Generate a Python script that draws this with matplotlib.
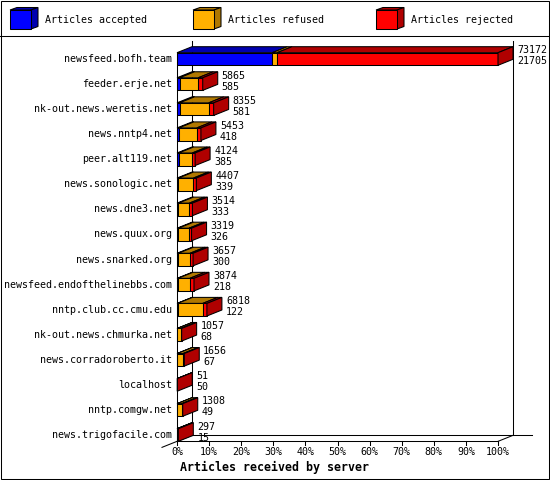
import matplotlib
matplotlib.use("Agg")
import matplotlib.pyplot as plt
from matplotlib.patches import Polygon, Rectangle

# ---------------- data ----------------
servers = ["newsfeed.bofh.team", "feeder.erje.net", "nk-out.news.weretis.net",
           "news.nntp4.net", "peer.alt119.net", "news.sonologic.net",
           "news.dne3.net", "news.quux.org", "news.snarked.org",
           "newsfeed.endofthelinebbs.com", "nntp.club.cc.cmu.edu",
           "nk-out.news.chmurka.net", "news.corradoroberto.it", "localhost",
           "nntp.comgw.net", "news.trigofacile.com"]
totals   = [73172, 5865, 8355, 5453, 4124, 4407, 3514, 3319, 3657, 3874, 6818, 1057, 1656, 51, 1308, 297]
accepted = [21705, 585, 581, 418, 385, 339, 333, 326, 300, 218, 122, 68, 67, 50, 49, 15]
refused  = [1100, 4250, 6650, 4105, 3089, 3408, 2481, 2423, 2667, 2706, 5746, 800, 1300, 0, 1000, 100]
rejected = [50367, 1030, 1124, 930, 650, 660, 700, 570, 690, 950, 950, 189, 289, 1, 259, 182]
ticks = [0, 10, 20, 30, 40, 50, 60, 70, 80, 90, 100]
legend_labels = ["Articles accepted", "Articles refused", "Articles rejected"]
xlabel = "Articles received by server"

# ---------------- style ----------------
front_cols = ["#0000FF", "#FFB000", "#FF0000"]
dark_cols = ["#0000B0", "#B07800", "#B00000"]
FONT = "DejaVu Sans Mono"
FS = 7.2
W, Hpx = 550, 480
PX0, PX100 = 177, 498        # pixel x of 0% and 100%
ROW0, ROWSTEP = 59, 25.07    # pixel y of first row centre, row spacing
sx = (PX100 - PX0) / 100.0
DX = 15 / sx                  # depth offset in data units
DY = -6 / ROWSTEP
HH = 6.3 / ROWSTEP            # half bar height
py = 1 / ROWSTEP              # one pixel in row units
px = 1 / sx                   # one pixel in % units
LW = 0.75

fig = plt.figure(figsize=(W / 100, Hpx / 100), dpi=100)
fig.patch.set_facecolor("white")

ax = fig.add_axes([0, 0, 1, 1])
ax.set_xlim(-PX0 / sx, (W - PX0) / sx)
ax.set_ylim((Hpx - ROW0) / ROWSTEP, -ROW0 / ROWSTEP)
ax.axis("off")

ov = fig.add_axes([0, 0, 1, 1])
ov.set_xlim(0, W)
ov.set_ylim(Hpx, 0)
ov.axis("off")
ov.patch.set_visible(False)

# ---------------- frame & legend ----------------
ov.add_patch(Rectangle((0.5, 0.5), W - 1.5, Hpx - 1.5, fill=False, ec="black", lw=LW))
ov.plot([0, W], [35.5, 35.5], color="black", lw=LW)
leg_x = [10, 193, 376]
for lx, lab, fc, dc in zip(leg_x, legend_labels, front_cols, dark_cols):
    x0, y0, w, h, dx, dy = lx, 10, 21, 19, 7, -2.5
    ov.add_patch(Polygon([(x0, y0), (x0 + dx, y0 + dy), (x0 + w + dx, y0 + dy), (x0 + w, y0)],
                         closed=True, fc=dc, ec="black", lw=LW))
    ov.add_patch(Polygon([(x0 + w, y0), (x0 + w + dx, y0 + dy), (x0 + w + dx, y0 + h + dy), (x0 + w, y0 + h)],
                         closed=True, fc=dc, ec="black", lw=LW))
    ov.add_patch(Rectangle((x0, y0), w, h, fc=fc, ec="black", lw=LW))
    ov.text(lx + 35, 20, lab, family=FONT, fontsize=FS, ha="left", va="center")

# ---------------- axes walls / floor ----------------
n = len(servers)
ff = (n - 1) + HH             # floor front y
fb = ff + DY                  # floor back y
top = -0.72
ax.plot([DX, DX], [top, fb], color="black", lw=LW)
ax.plot([100 + DX, 100 + DX], [top, fb], color="black", lw=LW)
ax.plot([DX, 100 + DX + 6], [fb, fb], color="black", lw=LW)
ax.plot([0, 100], [ff, ff], color="black", lw=LW)
ax.plot([100, 100 + DX], [ff, fb], color="black", lw=LW)
ax.plot([-DX, DX], [ff - DY, fb], color="black", lw=LW)
ax.plot([0, 0], [0 - HH, ff], color="black", lw=LW, zorder=5)
for t in ticks:
    ax.plot([t, t], [ff, ff + 4 * py], color="black", lw=LW)
    ax.text(t, ff + 11 * py, f"{t}%", family=FONT, fontsize=FS, ha="center", va="center")
ov.text(180, 467, xlabel, family=FONT, fontsize=8.4, fontweight="bold", ha="left", va="center")

# ---------------- bars ----------------
vmax = max(totals)
for i in range(n):
    yc = i
    vals = [accepted[i], refused[i], rejected[i]]
    left = 0.0
    last_dark = dark_cols[-1]
    for v, fc, dc in zip(vals, front_cols, dark_cols):
        if v <= 0:
            continue
        w = v / vmax * 100
        ax.add_patch(Polygon([(left, yc - HH), (left + DX, yc - HH + DY),
                              (left + w + DX, yc - HH + DY), (left + w, yc - HH)],
                             closed=True, fc=dc, ec="black", lw=LW, zorder=3))
        ax.add_patch(Rectangle((left, yc - HH), w, 2 * HH, fc=fc, ec="black", lw=LW, zorder=3))
        left += w
        last_dark = dc
    R = left
    ax.add_patch(Polygon([(R, yc - HH), (R + DX, yc - HH + DY), (R + DX, yc + HH + DY), (R, yc + HH)],
                         closed=True, fc=last_dark, ec="black", lw=LW, zorder=3))
    ax.text(-5 * px, yc, servers[i], family=FONT, fontsize=FS, ha="right", va="center")
    ax.text(R + DX + 4 * px, yc - 8.5 * py, str(totals[i]), family=FONT, fontsize=FS,
            ha="left", va="center", zorder=6)
    ax.text(R + DX + 4 * px, yc + 2.5 * py, str(accepted[i]), family=FONT, fontsize=FS,
            ha="left", va="center", zorder=6)

fig.savefig("out.png", dpi=100, facecolor="white")
